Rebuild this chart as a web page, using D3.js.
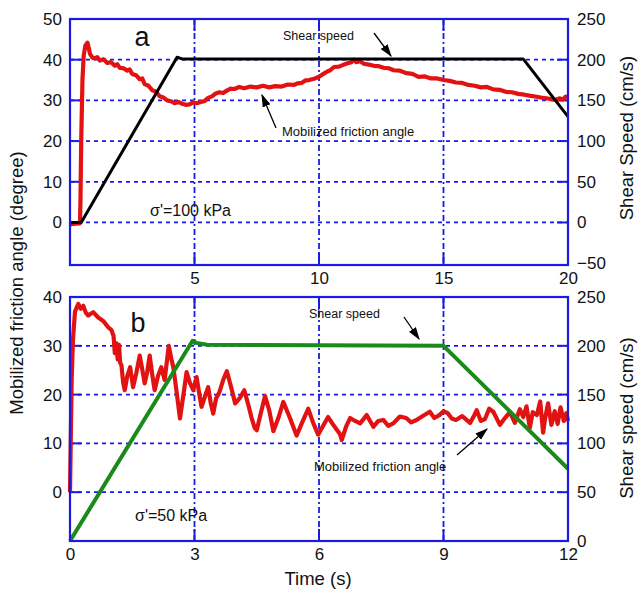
<!DOCTYPE html>
<html><head><meta charset="utf-8">
<script src="https://cdn.jsdelivr.net/npm/d3@7"></script>
<style>body{margin:0;background:#fff}svg{display:block}text{font-family:"Liberation Sans",Arial,sans-serif}</style>
</head><body><svg id="c" width="639" height="590"></svg>
<script>
// ---------- DATA ----------
// Panel a (sigma' = 100 kPa)
const timeA = [0,0.2,0.4,0.42,0.45,0.5,0.55,0.62,0.7,0.75,0.8,0.9,1.0,1.1,1.2,1.35,1.5,1.65,1.8,1.9,2.0,2.15,2.3,2.4,2.5,2.65,2.8,2.9,3.0,3.15,3.3,3.45,3.6,3.75,3.9,4.05,4.2,4.35,4.5,4.65,4.8,4.95,5.1,5.25,5.4,5.55,5.7,5.85,6.0,6.15,6.3,6.45,6.6,6.8,7.0,7.25,7.5,7.75,8.0,8.25,8.5,8.75,9.0,9.15,9.3,9.45,9.6,9.8,10.0,10.15,10.3,10.45,10.6,10.8,11.0,11.15,11.3,11.4,11.5,11.65,11.8,12.0,12.2,12.4,12.6,12.8,13.0,13.25,13.5,13.75,14.0,14.25,14.5,14.75,15.0,15.25,15.5,15.75,16.0,16.25,16.5,16.75,17.0,17.25,17.5,17.75,18.0,18.25,18.5,18.75,19.0,19.25,19.5,19.65,19.8,19.9,20.0];
const angleA = [-0.5,-0.3,-0.2,5,20,35,41,43.5,44.2,43,41.5,40.5,40.3,40.6,39.8,40.1,39.2,39.4,38.5,38.9,38,37.9,37.3,37.6,36.5,36.2,35.2,35.4,34,33.6,32.5,32.2,31,30.7,30,29.8,29.3,29.6,29.2,28.9,29,29.5,29.3,29.6,29.8,30.6,31,31.7,32,31.8,32.4,32.9,32.8,33.3,33,33.4,33.2,33.6,33.2,33.5,33.4,33.9,33.8,34.2,34.3,34.9,35,35.3,35.8,36.4,37,37.4,38.2,38.3,38.8,39.1,39.4,40.0,39.4,39.6,39,38.8,38.5,38.4,38,37.9,37.4,37.3,36.7,36.5,35.8,35.9,35.4,35.4,35.0,34.8,34.4,34.3,33.8,33.6,33.2,33.3,32.7,32.6,32.1,32.0,31.6,31.4,31.1,30.9,30.6,30.4,30.1,30.5,30.2,30.9,31];
const speedTimeA = [0,0.45,4.3,4.5,18.2,20];
const speedA = [0,0,203,201,201,130];

// Panel b (sigma' = 50 kPa)
const timeB = [0,0.01,0.04,0.07,0.12,0.2,0.26,0.32,0.38,0.44,0.56,0.68,0.8,0.92,1.0,1.05,1.08,1.12,1.15,1.18,1.21,1.24,1.28,1.32,1.38,1.45,1.52,1.6,1.68,1.74,1.8,1.86,1.92,1.98,2.04,2.12,2.2,2.28,2.38,2.44,2.49,2.57,2.65,2.73,2.81,2.89,2.97,3.05,3.11,3.17,3.25,3.33,3.39,3.45,3.52,3.6,3.7,3.78,3.88,3.98,4.1,4.2,4.3,4.37,4.45,4.5,4.6,4.7,4.8,4.9,5.02,5.14,5.3,5.46,5.6,5.74,5.86,5.98,6.1,6.22,6.36,6.5,6.55,6.65,6.75,6.87,6.99,7.15,7.31,7.43,7.55,7.67,7.79,7.95,8.1,8.22,8.35,8.5,8.67,8.78,8.9,9.0,9.1,9.2,9.3,9.45,9.64,9.72,9.8,9.9,10.0,10.1,10.2,10.36,10.48,10.6,10.72,10.84,10.92,11.0,11.08,11.15,11.25,11.33,11.4,11.45,11.52,11.6,11.68,11.75,11.82,11.9,11.96,12.0];
const angleB = [0,6,23,31,37,38.6,37.6,38.2,36.8,36.2,36.9,35.8,35.1,33.8,33.2,32,28.5,30.5,27.2,30.2,26.5,26,22.5,20.9,23.8,25.6,21.5,24.5,28,25.2,22.3,24.6,28,24.2,20.9,23.8,25.6,23,30,27.4,25.6,20.5,15.1,19.8,24.6,22.4,20.9,23.6,20.4,17.5,19.6,21.5,18.3,16.1,19.2,20.5,23.2,24.8,21.6,18.2,19.4,20.9,17.8,15.4,13.2,12.7,16.3,19.7,16.8,12.5,15.2,18.5,15.2,11.6,14.4,17.1,14.2,11.8,13.6,15.4,13.6,12,10.7,13.4,15.2,14.6,14.1,15.8,13.4,14.6,14.8,13.6,14.1,15.5,15.2,14.3,14.8,15.6,16.5,15.2,15.8,16.6,16.2,15.1,14.8,15.6,14.2,15.4,16.8,14.6,15,17.1,16.5,13.8,15.2,16.4,14.2,17.0,15.4,17.6,13.2,16.4,15.8,18.6,12.2,15.2,18.2,13.8,16.6,14.0,17.4,14.6,16.2,14.6];
const speedTimeB = [0,2.95,3.05,3.3,9,12];
const speedB = [0,205,203,201,200,74];

// tick labels
const ticksA_left = [0,10,20,30,40,50];
const ticksA_right = [-50,0,50,100,150,200,250];
const ticksA_x = [5,10,15,20];
const ticksB_left = [0,10,20,30,40];
const ticksB_right = [0,50,100,150,200,250];
const ticksB_x = [0,3,6,9,12];

// ---------- DRAW ----------
const svg = d3.select("#c");
const blue = "#1a1ae0";
const X0 = 70, X1 = 568;

function panel(cfg){
  const g = svg.append("g");
  const x = d3.scaleLinear().domain(cfg.xDomain).range([X0, X1]);
  const yL = d3.scaleLinear().domain(cfg.yLDomain).range([cfg.bottom, cfg.top]);
  const yR = d3.scaleLinear().domain(cfg.yRDomain).range([cfg.bottom, cfg.top]);
  cfg.gridY.forEach(v=>{
    const yy = yL(v);
    g.append("line").attr("x1",X0).attr("x2",X1).attr("y1",yy).attr("y2",yy)
      .attr("stroke",blue).attr("stroke-width",1.8).attr("stroke-dasharray","4,4");
    g.append("line").attr("x1",X0).attr("x2",X0+11).attr("y1",yy).attr("y2",yy).attr("stroke",blue).attr("stroke-width",2);
    g.append("line").attr("x1",X1-11).attr("x2",X1).attr("y1",yy).attr("y2",yy).attr("stroke",blue).attr("stroke-width",2);
  });
  cfg.gridX.forEach(v=>{
    const xx = x(v);
    g.append("line").attr("x1",xx).attr("x2",xx).attr("y1",cfg.top).attr("y2",cfg.bottom)
      .attr("stroke",blue).attr("stroke-width",1.8).attr("stroke-dasharray","6,3,2,3");
    g.append("line").attr("x1",xx).attr("x2",xx).attr("y1",cfg.top).attr("y2",cfg.top+12).attr("stroke",blue).attr("stroke-width",2);
    g.append("line").attr("x1",xx).attr("x2",xx).attr("y1",cfg.bottom-12).attr("y2",cfg.bottom).attr("stroke",blue).attr("stroke-width",2);
  });
  const redData = cfg.tRed.map((t,i)=>[t,cfg.red[i]]);
  const spData = cfg.tSp.map((t,i)=>[t,cfg.sp[i]]);
  g.append("path").datum(redData)
    .attr("d", d3.line().x(d=>x(d[0])).y(d=>yL(d[1])))
    .attr("fill","none").attr("stroke","#e31212").attr("stroke-width",cfg.redWidth).attr("stroke-linejoin","round");
  g.append("path").datum(spData)
    .attr("d", d3.line().x(d=>x(d[0])).y(d=>yR(d[1])))
    .attr("fill","none").attr("stroke",cfg.spColor).attr("stroke-width",cfg.spWidth).attr("stroke-linejoin","round");
  g.append("rect").attr("x",X0).attr("y",cfg.top).attr("width",X1-X0).attr("height",cfg.bottom-cfg.top)
    .attr("fill","none").attr("stroke",blue).attr("stroke-width",2.2);
  const aL = g.append("g").attr("transform",`translate(${X0},0)`)
    .call(d3.axisLeft(yL).tickValues(cfg.tL).tickSize(0).tickPadding(8));
  const aR = g.append("g").attr("transform",`translate(${X1},0)`)
    .call(d3.axisRight(yR).tickValues(cfg.tR).tickSize(0).tickPadding(9));
  const aX = g.append("g").attr("transform",`translate(0,${cfg.bottom})`)
    .call(d3.axisBottom(x).tickValues(cfg.tX).tickSize(0).tickPadding(7).tickFormat(d3.format("d")));
  [aL,aR,aX].forEach(a=>{a.select(".domain").remove();
    a.selectAll("text").attr("font-size",17).attr("fill","#111").attr("font-family","Liberation Sans, Arial, sans-serif");});
  return {x,yL,yR,g};
}

panel({xDomain:[0,20], yLDomain:[-10.45,50], yRDomain:[-52.25,250], top:19, bottom:265,
  gridY:[0,10,20,30,40], gridX:[5,10,15], tL:ticksA_left, tR:ticksA_right, tX:ticksA_x,
  tRed:timeA, red:angleA, redWidth:4.2, tSp:speedTimeA, sp:speedA, spColor:"#000", spWidth:3});
panel({xDomain:[0,12], yLDomain:[-10,40], yRDomain:[0,250], top:297, bottom:541,
  gridY:[0,10,20,30], gridX:[3,6,9], tL:ticksB_left, tR:ticksB_right, tX:ticksB_x,
  tRed:timeB, red:angleB, redWidth:4.2, tSp:speedTimeB, sp:speedB, spColor:"#1a8a1a", spWidth:4});

svg.append("defs").append("marker").attr("id","ah").attr("viewBox","0 0 10 10").attr("refX",9).attr("refY",5)
  .attr("markerWidth",10).attr("markerHeight",10).attr("orient","auto-start-reverse")
  .append("path").attr("d","M0,1.8 L10,5 L0,8.2 z").attr("fill","#000");

function txt(x,y,s,size,anchor){
  return svg.append("text").attr("x",x).attr("y",y).attr("font-size",size).attr("fill","#111")
    .attr("text-anchor",anchor||"start").text(s);
}
function arrow(x1,y1,x2,y2){
  svg.append("line").attr("x1",x1).attr("y1",y1).attr("x2",x2).attr("y2",y2)
    .attr("stroke","#000").attr("stroke-width",1.3).attr("marker-end","url(#ah)");
}
txt(142,46,"a",27,"middle");
txt(150,216,"σ'=100 kPa",16);
txt(283,40,"Shear speed",12.5);
arrow(374,33,391,56);
txt(282,136,"Mobilized friction angle",13);
arrow(276,128,262,95);
txt(138,332,"b",27,"middle");
txt(135,521,"σ'=50 kPa",16);
txt(309,318,"Shear speed",12.5);
arrow(404,317,419,339);
txt(314,471,"Mobilized friction angle",13);
arrow(457,455,487,429);

svg.append("text").attr("transform","translate(23,283) rotate(-90)").attr("text-anchor","middle")
  .attr("font-size",18.5).attr("fill","#111").text("Mobilized friction angle (degree)");
svg.append("text").attr("transform","translate(633,138) rotate(-90)").attr("text-anchor","middle")
  .attr("font-size",18.5).attr("fill","#111").text("Shear Speed (cm/s)");
svg.append("text").attr("transform","translate(633,418) rotate(-90)").attr("text-anchor","middle")
  .attr("font-size",18.5).attr("fill","#111").text("Shear speed (cm/s)");
svg.append("text").attr("x",318).attr("y",585).attr("text-anchor","middle")
  .attr("font-size",18.5).attr("fill","#111").text("Time (s)");
</script></body></html>
